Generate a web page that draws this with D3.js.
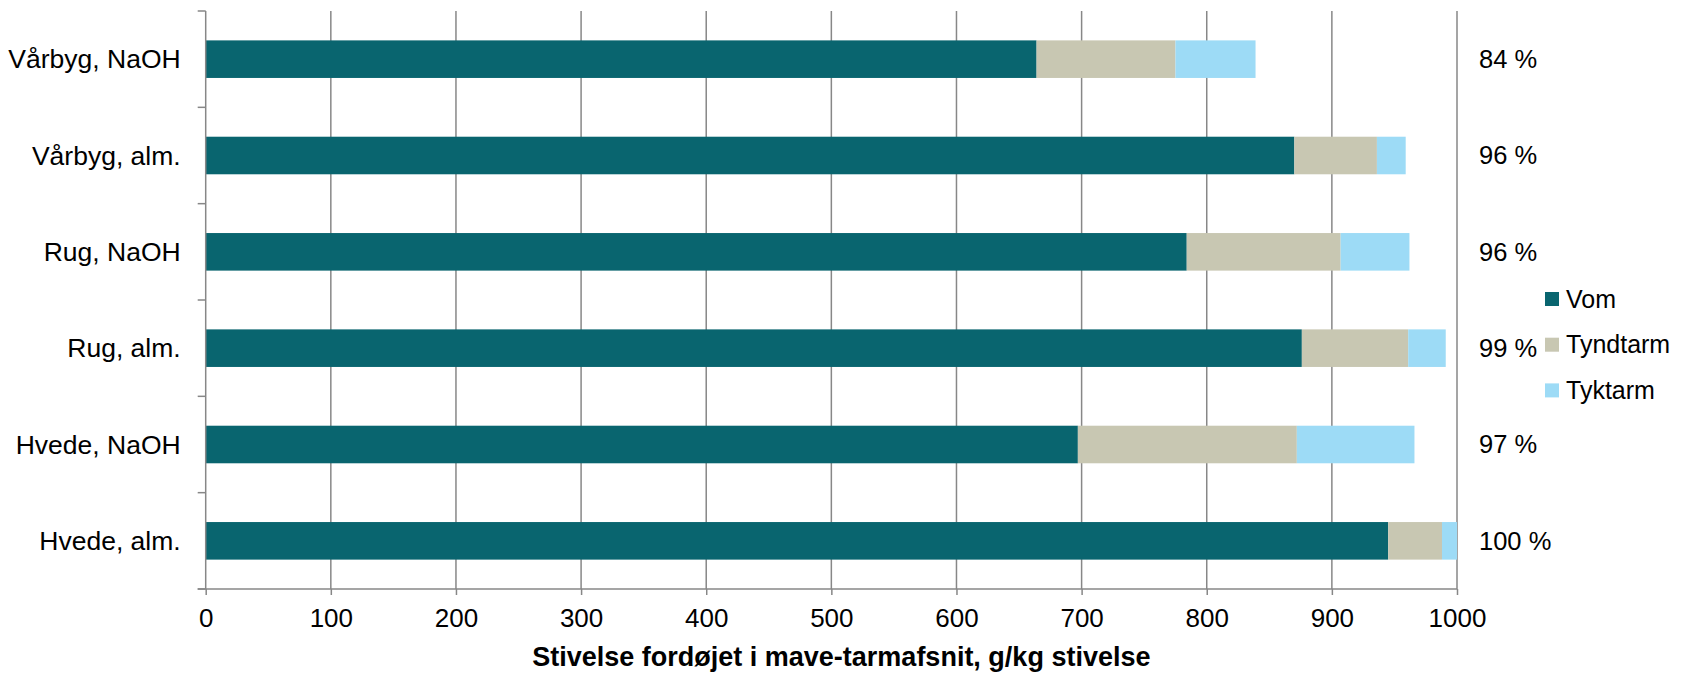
<!DOCTYPE html>
<html>
<head>
<meta charset="utf-8">
<script src="https://cdn.jsdelivr.net/npm/d3@7"></script>
<style>
  html, body { margin: 0; padding: 0; background: #fff; }
  svg { display: block; font-family: "Liberation Sans", Arial, sans-serif; }
</style>
</head>
<body>
<svg id="chart" width="1682" height="674"></svg>
<script>
// Feed types, top to bottom
const categories = ["Vårbyg, NaOH", "Vårbyg, alm.", "Rug, NaOH", "Rug, alm.", "Hvede, NaOH", "Hvede, alm."];

// Starch digested per gut section, g/kg starch
const seriesNames = ["Vom", "Tyndtarm", "Tyktarm"];
const vom      = [664, 870, 784, 876, 697, 945];
const tyndtarm = [111,  66, 123,  85, 175,  43];
const tyktarm  = [ 64,  23,  55,  30,  94,  12];

const xTicks = [0, 100, 200, 300, 400, 500, 600, 700, 800, 900, 1000];
const xTitle = "Stivelse fordøjet i mave-tarmafsnit, g/kg stivelse";

const colors = ["#09656f", "#c8c7b2", "#9ddbf6"];
const gridColor = "#878787";

const svg = d3.select("#chart");
const plot = { left: 205.7, right: 1457, top: 11, bottom: 589 };

const x = d3.scaleLinear().domain([0, 1000]).range([plot.left, plot.right]);
const y = d3.scaleBand().domain(categories).range([plot.top, plot.bottom])
  .paddingInner(0.61).paddingOuter(0.305);
const step = y.step();

const rows = categories.map((c, i) => ({ cat: c, Vom: vom[i], Tyndtarm: tyndtarm[i], Tyktarm: tyktarm[i] }));
const stacked = d3.stack().keys(seriesNames)(rows);
const color = d3.scaleOrdinal().domain(seriesNames).range(colors);

// vertical gridlines
svg.append("g").selectAll("line").data(xTicks.slice(1)).join("line")
  .attr("x1", d => x(d)).attr("x2", d => x(d))
  .attr("y1", plot.top).attr("y2", plot.bottom)
  .attr("stroke", gridColor).attr("stroke-width", 1.5);

// stacked bars
svg.append("g").selectAll("g").data(stacked).join("g")
  .attr("fill", d => color(d.key))
  .selectAll("rect").data(d => d).join("rect")
  .attr("x", d => x(d[0]))
  .attr("width", d => x(d[1]) - x(d[0]))
  .attr("y", d => y(d.data.cat))
  .attr("height", y.bandwidth());

// x axis
const xAxis = svg.append("g").attr("transform", `translate(0,${plot.bottom})`)
  .call(d3.axisBottom(x).tickValues(xTicks).tickFormat(d3.format("d"))
    .tickSize(6).tickSizeOuter(0).tickPadding(14));
xAxis.select(".domain").remove();
xAxis.selectAll(".tick line").attr("stroke", gridColor).attr("stroke-width", 1.5);
xAxis.selectAll(".tick text")
  .attr("font-size", 26).attr("fill", "#000")
  .attr("font-family", "Liberation Sans, Arial, sans-serif");
svg.append("line")
  .attr("x1", plot.left - 8).attr("x2", plot.right)
  .attr("y1", plot.bottom).attr("y2", plot.bottom)
  .attr("stroke", gridColor).attr("stroke-width", 1.5);

// y axis line with ticks on category boundaries
svg.append("line")
  .attr("x1", plot.left).attr("x2", plot.left)
  .attr("y1", plot.top).attr("y2", plot.bottom)
  .attr("stroke", gridColor).attr("stroke-width", 1.5);
svg.append("g").selectAll("line").data(d3.range(categories.length + 1)).join("line")
  .attr("x1", plot.left - 8).attr("x2", plot.left)
  .attr("y1", i => plot.top + i * step).attr("y2", i => plot.top + i * step)
  .attr("stroke", gridColor).attr("stroke-width", 1.5);

// category labels
svg.append("g").selectAll("text").data(categories).join("text")
  .attr("x", plot.left - 25)
  .attr("y", d => y(d) + y.bandwidth() / 2)
  .attr("dy", "0.35em")
  .attr("text-anchor", "end")
  .attr("font-size", 26.5)
  .text(d => d);

// total digested share per feed
svg.append("g").selectAll("text").data(rows).join("text")
  .attr("x", plot.right + 22)
  .attr("y", d => y(d.cat) + y.bandwidth() / 2)
  .attr("dy", "0.35em")
  .attr("font-size", 25.5)
  .text(d => Math.round((d.Vom + d.Tyndtarm + d.Tyktarm) / 10) + " %");

// legend
const legend = svg.append("g").attr("transform", "translate(1545,299)");
const li = legend.selectAll("g").data(seriesNames).join("g")
  .attr("transform", (d, i) => `translate(0,${i * 45.7})`);
li.append("rect").attr("x", 0).attr("y", -7).attr("width", 14).attr("height", 14)
  .attr("fill", d => color(d));
li.append("text").attr("x", 21).attr("dy", "0.35em").attr("font-size", 25).text(d => d);

// x axis title
svg.append("text")
  .attr("x", (plot.left + plot.right) / 2 + 10)
  .attr("y", 657).attr("dy", "0.35em")
  .attr("text-anchor", "middle")
  .attr("font-size", 27).attr("font-weight", "bold")
  .text(xTitle);
</script>
</body>
</html>
